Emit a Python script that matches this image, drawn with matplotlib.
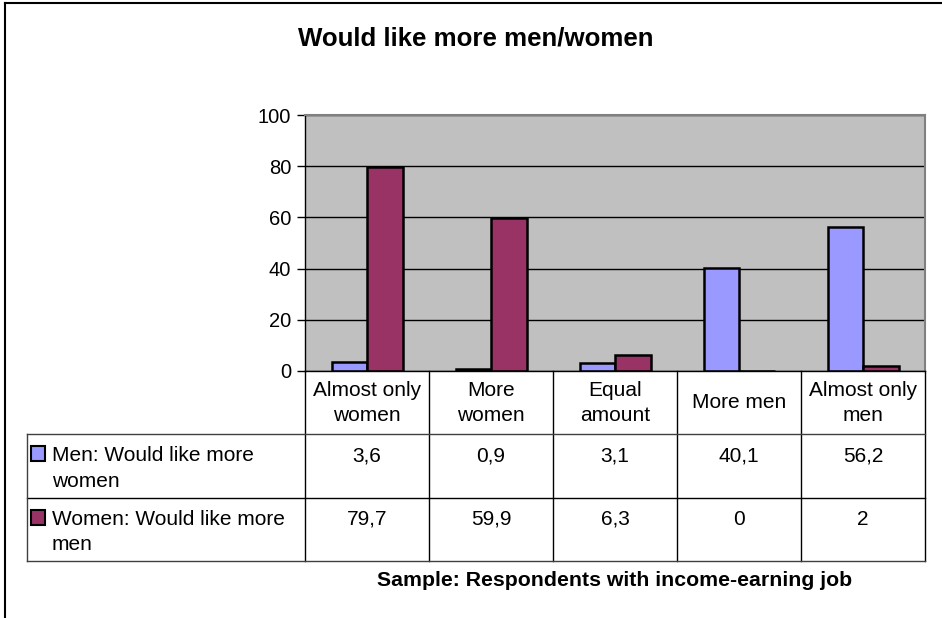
import numpy as np
import matplotlib
matplotlib.use("Agg")
import matplotlib.pyplot as plt
from matplotlib.lines import Line2D
from matplotlib.patches import Rectangle

# ============================================================
# DATA
# ============================================================

CATEGORIES = [
    "Almost only\nwomen",
    "More\nwomen",
    "Equal\namount",
    "More men",
    "Almost only\nmen",
]

SERIES_NAMES = [
    "Men: Would like more\nwomen",
    "Women: Would like more\nmen",
]

MEN_VALUES = [3.6, 0.9, 3.1, 40.1, 56.2]
WOMEN_VALUES = [79.7, 59.9, 6.3, 0, 2]

Y_TICKS = [0, 20, 40, 60, 80, 100]

TITLE = "Would like more men/women"
FOOTNOTE = "Sample: Respondents with income-earning job"

COLORS = ["#9999FF", "#993366"]
PLOT_BG = "#C0C0C0"

# ============================================================
# LAYOUT (pixels, 942 x 618 at 100 dpi)
# ============================================================

W, H = 942, 618
DPI = 100

PLOT_LEFT, PLOT_RIGHT = 305, 925
PLOT_TOP, PLOT_BOTTOM = 115, 371
TABLE_LEFT, TABLE_BOTTOM = 27, 561

FS = 15


def fig_rect(left, top, right, bottom):
    return [left / W, 1 - bottom / H, (right - left) / W, (bottom - top) / H]


def fmt(v):
    # decimal comma, as in the source spreadsheet
    return f"{v:g}".replace(".", ",")


plt.rcParams["font.family"] = ["Liberation Sans", "DejaVu Sans"]

fig = plt.figure(figsize=(W / DPI, H / DPI), dpi=DPI)

n = len(CATEGORIES)
x = np.arange(n)
px_per_unit = (PLOT_RIGHT - PLOT_LEFT) / n
bar_w = 35.5 / px_per_unit

# ============================================================
# BAR CHART
# ============================================================

ax = fig.add_axes(fig_rect(PLOT_LEFT, PLOT_TOP, PLOT_RIGHT, PLOT_BOTTOM))
ax.set_facecolor(PLOT_BG)
ax.set_xlim(-0.5, n - 0.5)
ax.set_ylim(0, 100)
ax.set_axisbelow(True)
ax.yaxis.grid(True, color="black", linewidth=1.0)

ax.bar(x - bar_w / 2, MEN_VALUES, bar_w, color=COLORS[0],
       edgecolor="black", linewidth=1.8)
ax.bar(x + bar_w / 2, WOMEN_VALUES, bar_w, color=COLORS[1],
       edgecolor="black", linewidth=1.8)

ax.set_yticks(Y_TICKS)
ax.set_xticks([])
ax.tick_params(axis="y", length=6, width=1, pad=4, labelsize=14.5)

for side in ("left", "bottom"):
    ax.spines[side].set_color("black")
    ax.spines[side].set_linewidth(1.0)
for side in ("top", "right"):
    ax.spines[side].set_color("#808080")
    ax.spines[side].set_linewidth(1.5)

# ============================================================
# DATA TABLE
# ============================================================

tab = fig.add_axes(fig_rect(TABLE_LEFT, PLOT_BOTTOM, PLOT_RIGHT, TABLE_BOTTOM))
x0 = -0.5 - (PLOT_LEFT - TABLE_LEFT) / px_per_unit
tab.set_xlim(x0, n - 0.5)
tab.set_ylim(3, 0)
tab.axis("off")

row_px = (TABLE_BOTTOM - PLOT_BOTTOM) / 3

for b in np.arange(n + 1) - 0.5:
    tab.plot([b, b], [0, 3], color="black", linewidth=1.0, clip_on=False)
for r in (1, 2, 3):
    tab.plot([x0, n - 0.5], [r, r], color="black" if r == 2 else "#404040",
             linewidth=1.0, clip_on=False)
tab.plot([x0, x0], [1, 3], color="#404040", linewidth=1.0, clip_on=False)

for i, cat in enumerate(CATEGORIES):
    tab.text(i, 0.5, cat, ha="center", va="center", fontsize=FS,
             linespacing=1.38, multialignment="center")

for r, (name, vals, col) in enumerate(
        zip(SERIES_NAMES, [MEN_VALUES, WOMEN_VALUES], COLORS), start=1):
    top = r + 12 / row_px
    tab.add_patch(Rectangle((x0 + 4 / px_per_unit, top), 14 / px_per_unit,
                            15 / row_px, facecolor=col, edgecolor="black",
                            linewidth=1.5, clip_on=False))
    tab.text(x0 + 25 / px_per_unit, top, name, ha="left", va="top",
             fontsize=FS, linespacing=1.42)
    for i, v in enumerate(vals):
        tab.text(i, top, fmt(v), ha="center", va="top", fontsize=FS)

# ============================================================
# TITLE, FOOTNOTE, FRAME
# ============================================================

fig.text(476 / W, 1 - 39 / H, TITLE, ha="center", va="center",
         fontsize=18.6, fontweight="bold")
fig.text(615 / W, 1 - 580 / H, FOOTNOTE, ha="center", va="center",
         fontsize=15.3, fontweight="bold")

fig.add_artist(Line2D([5 / W, 5 / W], [0, 1 - 3 / H], color="black",
                      linewidth=1.5))
fig.add_artist(Line2D([5 / W, 1], [1 - 3 / H, 1 - 3 / H], color="black",
                      linewidth=1.5))

fig.savefig("out.png", dpi=DPI)
